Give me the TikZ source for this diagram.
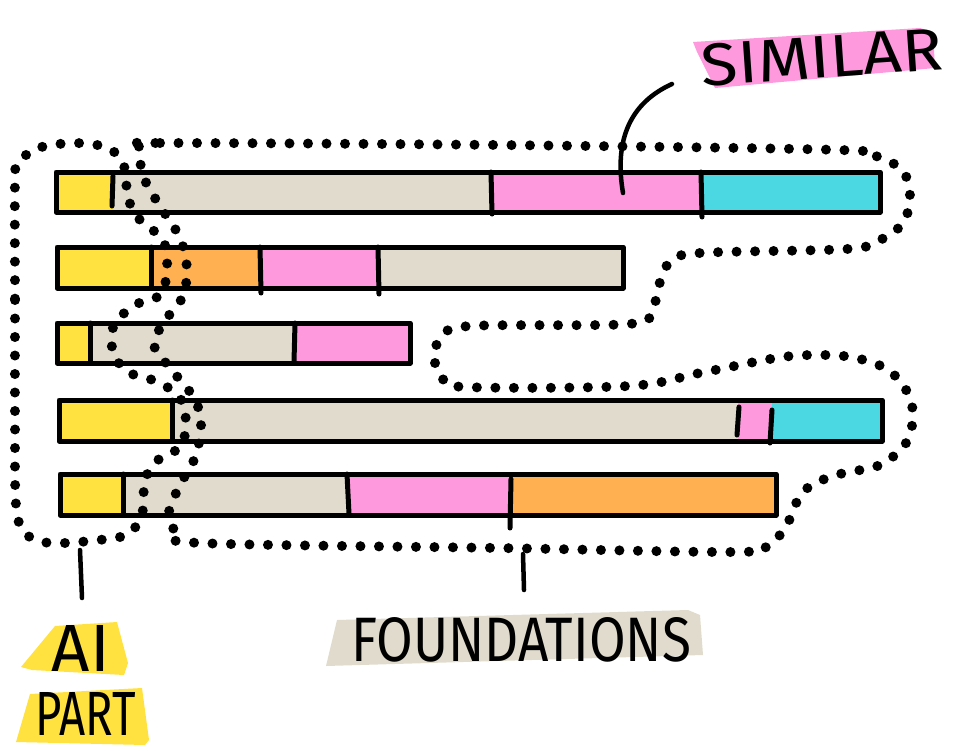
\documentclass[tikz,border=0pt]{standalone}
\usepackage{fontspec}
\setmainfont{Fira Sans}
\definecolor{cyel}{HTML}{FFE240}
\definecolor{cbei}{HTML}{E0DBCC}
\definecolor{cpin}{HTML}{FF99DD}
\definecolor{ccya}{HTML}{4CD8E2}
\definecolor{cora}{HTML}{FFB050}
\begin{document}
\begin{tikzpicture}[x=1pt,y=-1pt,
  barline/.style={line width=5pt, line cap=round, line join=round, black},
  divider/.style={line width=5pt, line cap=round, black},
  dotline/.style={line width=10pt, line cap=round, dash pattern=on 0pt off 18.5pt, black},
  leader/.style={line width=4.5pt, line cap=round, black},
  lbl/.style={inner sep=0pt, text=black}]
\useasboundingbox (0,0) rectangle (961,750);

% ---------- bar 1 ----------
\fill[cyel] (56,172) rectangle (113,212);
\fill[cbei] (113,172) rectangle (492,212);
\fill[cpin] (492,172) rectangle (702,212);
\fill[ccya] (702,172) rectangle (880,212);
\draw[barline] (56,172) rectangle (880,212);
\draw[divider] (113,176) -- (112,206);
\draw[divider] (491,172) -- (492,214);
\draw[divider] (701,172) -- (702,217);

% ---------- bar 2 ----------
\fill[cyel] (57,247) rectangle (151,288);
\fill[cora] (151,247) rectangle (261,288);
\fill[cpin] (261,247) rectangle (379,288);
\fill[cbei] (379,247) rectangle (623,288);
\draw[barline] (57,247) rectangle (623,288);
\draw[divider] (151,247) -- (151,288);
\draw[divider] (260,247) -- (261,293);
\draw[divider] (378,247) -- (379,294);

% ---------- bar 3 ----------
\fill[cyel] (57,323) rectangle (90,363);
\fill[cbei] (90,323) rectangle (295,363);
\fill[cpin] (295,323) rectangle (410,363);
\draw[barline] (57,323) rectangle (410,363);
\draw[divider] (90,323) -- (90,363);
\draw[divider] (295,323) -- (294,362);

% ---------- bar 4 ----------
\fill[cyel] (59,400) rectangle (172,441);
\fill[cbei] (172,400) rectangle (738,441);
\fill[cpin] (738,400) rectangle (772,441);
\fill[ccya] (772,400) rectangle (882,441);
\draw[barline] (59,400) rectangle (882,441);
\draw[divider] (172,400) -- (172,441);
\draw[divider] (739,407) -- (737,435);
\draw[divider] (772,410) -- (770,443);

% ---------- bar 5 ----------
\fill[cyel] (60,474) rectangle (123,515);
\fill[cbei] (123,474) rectangle (347,515);
\fill[cpin] (347,474) rectangle (510,515);
\fill[cora] (510,474) rectangle (776,515);
\draw[barline] (60,474) rectangle (776,515);
\draw[divider] (123,474) -- (123,515);
\draw[divider] (347,474) -- (349,514);
\draw[divider] (511,479) -- (510,528);

% ---------- dotted loops ----------
\draw[dotline] plot[smooth cycle, tension=0.55] coordinates {
 (15,180) (15,300) (15,420) (16,505) (25,533) (50,543) (99,540) (128,534)
 (142,514) (145,480) (158,460) (180,447) (186,424) (180,398) (158,382)
 (128,372) (113,352) (114,325) (135,305) (160,295) (167,270) (163,240)
 (140,220) (128,198) (124,166) (108,148) (73,143) (35,149) (18,165)};
\draw[dotline] plot[smooth cycle, tension=0.55] coordinates {
 (139,146) (160,143) (500,145) (840,150) (878,157) (903,171) (910,197)
 (903,223) (880,240) (847,249) (700,253) (670,262) (659,285) (652,310)
 (629,324) (470,326) (442,337) (434,356) (442,377) (465,387) (629,386)
 (700,373) (776,358) (813,355) (851,357) (885,368) (905,388) (913,414)
 (906,443) (880,465) (840,474) (810,486) (795,505) (786,527) (768,545)
 (736,552) (500,548) (200,543) (176,532) (169,512) (180,485) (196,455)
 (201,420) (192,395) (170,368) (154,345) (164,322) (182,298) (187,270)
 (180,238) (160,206) (145,180)};

% ---------- label highlights ----------
\fill[cpin] (693,42) -- (920,28) -- (933,32) -- (935,68) -- (715,88) -- (697,52) -- cycle;
\fill[cbei] (337,620) -- (688,610) -- (700,615) -- (703,655) -- (326,666) -- cycle;
\fill[cyel] (55,626) -- (117,622) -- (128,663) -- (124,675) -- (32,670) -- (21,667) -- cycle;
\fill[cyel] (30,694) -- (142,688) -- (149,740) -- (145,745) -- (16,742) -- cycle;

% ---------- labels ----------
\node[lbl, rotate=4] (sim) at (822,57) {\resizebox{242pt}{42pt}{SIMILAR}};
\node[lbl] (fnd) at (521,640) {\resizebox{340pt}{44pt}{FOUNDATIONS}};
\node[lbl] (ai) at (81,648) {\resizebox{58pt}{46pt}{AI}};
\node[lbl] (part) at (86,714) {\resizebox{100pt}{43pt}{PART}};

% ---------- leaders ----------
\coordinate (simstart) at (672,84);
\coordinate (simend) at (623,193);
\coordinate (aitop) at (80,550);
\coordinate (aibot) at (82,598);
\coordinate (fndtop) at (523,554);
\coordinate (fndbot) at (524,590);
\draw[leader] (simstart) .. controls (630,103) and (614,140) .. (simend);
\draw[leader] (aitop) -- (aibot);
\draw[leader] (fndtop) -- (fndbot);
\end{tikzpicture}
\end{document}
